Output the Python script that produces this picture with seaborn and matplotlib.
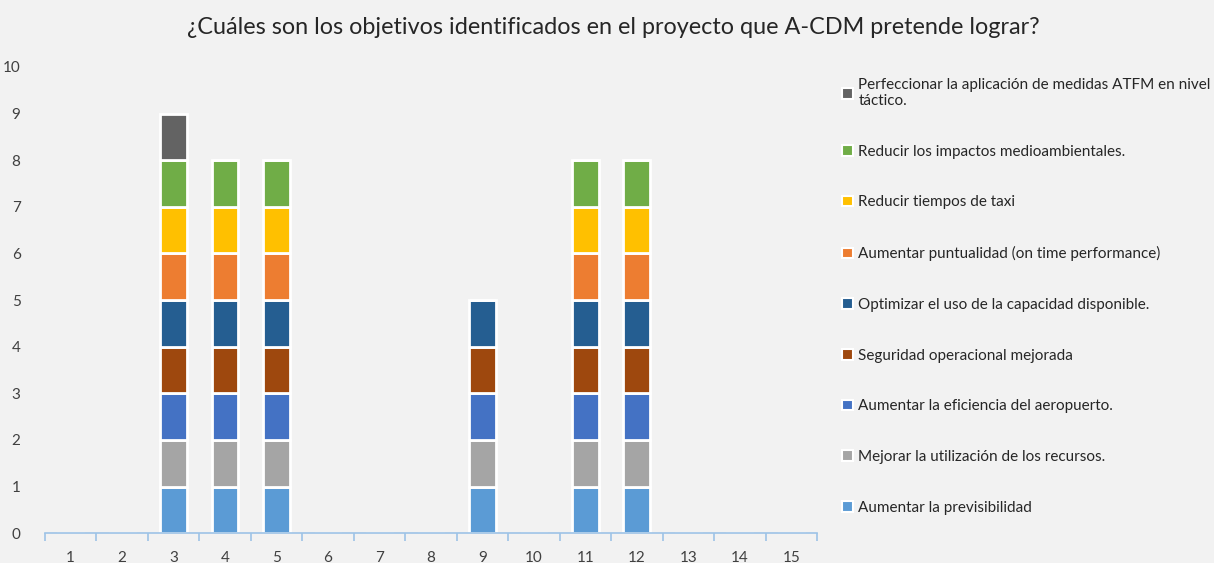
import pandas as pd
import matplotlib.pyplot as plt
import seaborn as sns
from matplotlib.patches import Patch

# Data
categories = list(range(1, 16))

series_names = [
    "Aumentar la previsibilidad",
    "Mejorar la utilización de los recursos.",
    "Aumentar la eficiencia del aeropuerto.",
    "Seguridad operacional mejorada",
    "Optimizar el uso de la capacidad disponible.",
    "Aumentar puntualidad (on time performance)",
    "Reducir tiempos de taxi",
    "Reducir los impactos medioambientales.",
    "Perfeccionar la aplicación de medidas ATFM en nivel\ntáctico.",
]

previsibilidad = [0, 0, 1, 1, 1, 0, 0, 0, 1, 0, 1, 1, 0, 0, 0]
recursos       = [0, 0, 1, 1, 1, 0, 0, 0, 1, 0, 1, 1, 0, 0, 0]
eficiencia     = [0, 0, 1, 1, 1, 0, 0, 0, 1, 0, 1, 1, 0, 0, 0]
seguridad      = [0, 0, 1, 1, 1, 0, 0, 0, 1, 0, 1, 1, 0, 0, 0]
capacidad      = [0, 0, 1, 1, 1, 0, 0, 0, 1, 0, 1, 1, 0, 0, 0]
puntualidad    = [0, 0, 1, 1, 1, 0, 0, 0, 0, 0, 1, 1, 0, 0, 0]
taxi           = [0, 0, 1, 1, 1, 0, 0, 0, 0, 0, 1, 1, 0, 0, 0]
medioambiente  = [0, 0, 1, 1, 1, 0, 0, 0, 0, 0, 1, 1, 0, 0, 0]
atfm           = [0, 0, 1, 0, 0, 0, 0, 0, 0, 0, 0, 0, 0, 0, 0]

series_values = [previsibilidad, recursos, eficiencia, seguridad, capacidad,
                 puntualidad, taxi, medioambiente, atfm]

colors = ["#5B9BD5", "#A5A5A5", "#4472C4", "#9E480E", "#255E91",
          "#ED7D31", "#FFC000", "#70AD47", "#636363"]

# Long-form table for seaborn
rows = []
for name, vals in zip(series_names, series_values):
    for c, v in zip(categories, vals):
        rows.append({"Categoria": c, "Objetivo": name, "Valor": v})
df = pd.DataFrame(rows)

palette = dict(zip(series_names, colors))
hue_order = series_names[::-1]  # seaborn stacks first level on top

sns.set_style("white")
plt.rcParams["font.family"] = ["Lato", "DejaVu Sans"]

bg = "#F2F2F2"
fig = plt.figure(figsize=(12.14, 5.63), dpi=100, facecolor=bg)
ax = fig.add_axes([0.037, 0.053, 0.636, 0.828])
ax.set_facecolor(bg)

sns.histplot(
    data=df, x="Categoria", weights="Valor", hue="Objetivo",
    hue_order=hue_order, palette=palette, multiple="stack",
    discrete=True, shrink=0.52, alpha=1, edgecolor="white",
    linewidth=2, legend=False, ax=ax,
)

ax.set_xlim(0.5, 15.5)
ax.set_ylim(0, 10)
ax.set_xticks(categories)
ax.set_xticklabels([str(c) for c in categories], fontsize=11, color="#404040")
ax.set_xticks([c - 0.5 for c in categories] + [15.5], minor=True)
ax.tick_params(axis="x", which="major", bottom=False, pad=9)
ax.tick_params(axis="x", which="minor", bottom=True, length=6, color="#9DC3E6", width=1.2)
ax.set_yticks(range(0, 11))
ax.tick_params(axis="y", left=False, labelsize=11, labelcolor="#404040", pad=14)
ax.set_xlabel("")
ax.set_ylabel("")

for s in ["top", "right", "left"]:
    ax.spines[s].set_visible(False)
ax.spines["bottom"].set_color("#9DC3E6")
ax.spines["bottom"].set_linewidth(1.2)

fig.suptitle("¿Cuáles son los objetivos identificados en el proyecto que A-CDM pretende lograr?",
             fontsize=16.8, color="#262626", x=0.5055, y=0.97)

handles = [Patch(facecolor=palette[n], edgecolor="white", linewidth=1.5) for n in hue_order]
leg = fig.legend(handles, hue_order, loc="upper left", bbox_to_anchor=(0.6825, 0.886),
                 frameon=False, fontsize=11, handlelength=0.7, handleheight=0.7,
                 handletextpad=0.35, labelspacing=2.4, labelcolor="#262626")

fig.savefig("out.png", dpi=100, facecolor=bg)
